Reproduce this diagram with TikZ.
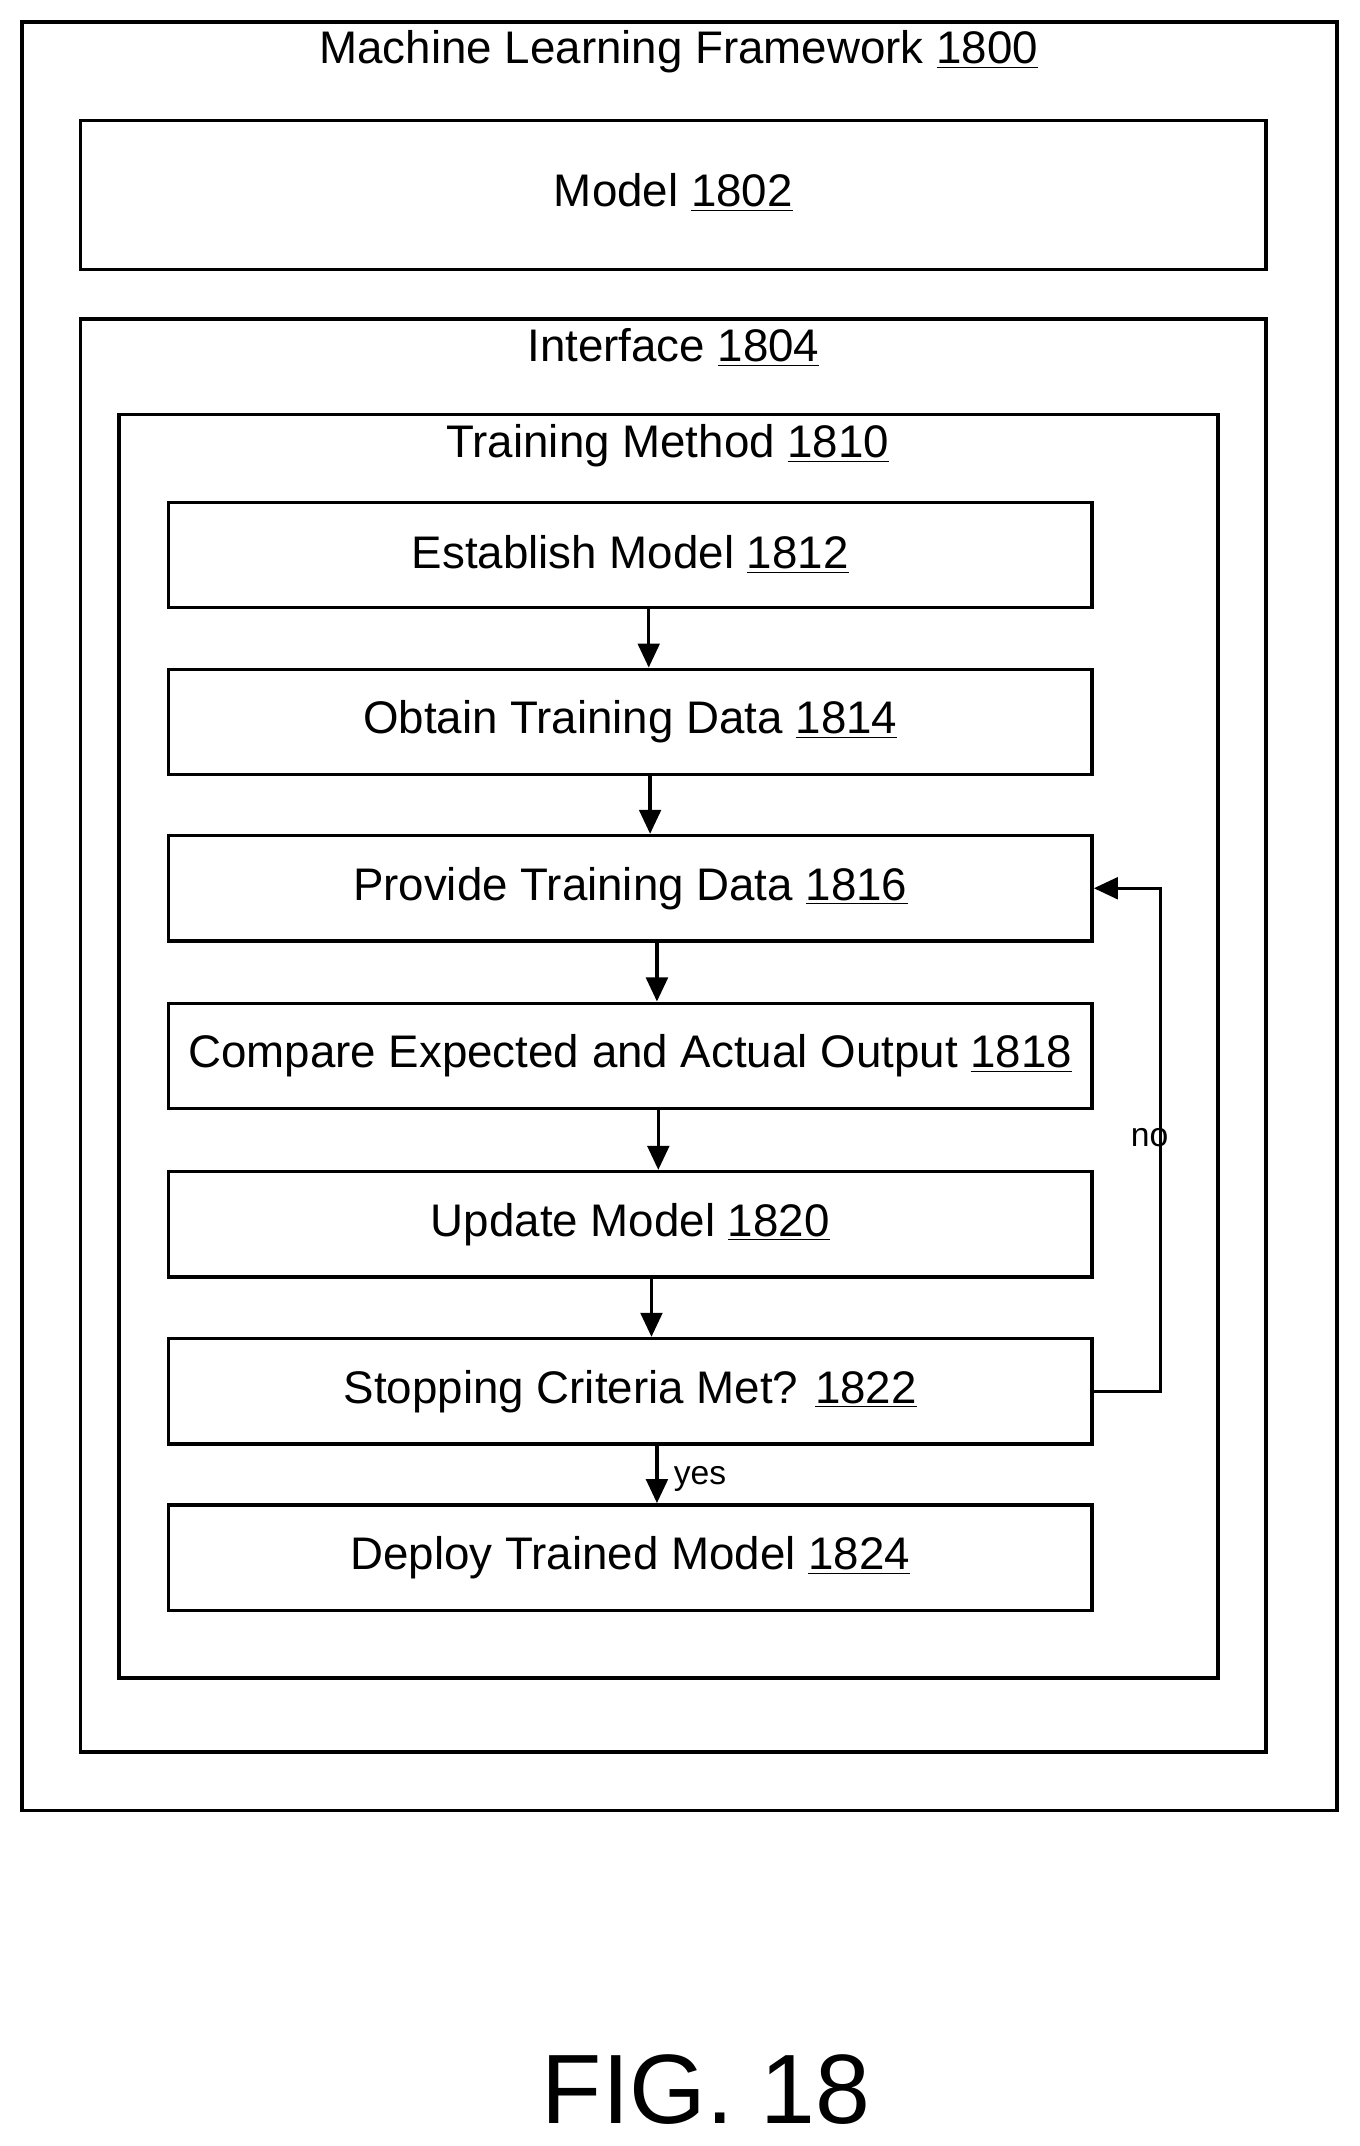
\documentclass[tikz,border=0pt]{standalone}
\usepackage{fontspec}
\setmainfont{Liberation Sans}
\usetikzlibrary{positioning,arrows.meta}

\begin{document}
\begin{tikzpicture}[x=0.02cm,y=-0.02cm,line width=1.4pt,
	stepb/.style={
		draw=black,
		minimum width=675*0.02cm,
		minimum height=77*0.02cm,
		font=\fontsize{19}{22}\selectfont},
	lbl/.style={font=\fontsize{19}{22}\selectfont},
	flow/.style={-{Triangle[length=10pt,width=9pt]}},
	]
	\useasboundingbox (0,0) rectangle (993,1568);
	% frames
	\draw (16,16) rectangle (977,1323);
	\node[lbl] (MLF) at (496,38) {Machine Learning Framework \underline{1800}};
	\draw (59,88) rectangle (925,197);
	\node[lbl] (MOD) at (492,141) {Model \underline{1802}};
	\draw (59,233) rectangle (925,1280);
	\node[lbl] (IF) at (492,254) {Interface \underline{1804}};
	\draw (87,303) rectangle (890,1226);
	\node[lbl] (TM) at (488,326) {Training Method \underline{1810}};
	% steps
	\node[stepb] (EM) at (460.5,405.5) {Establish Model \underline{1812}};
	\node[stepb] (OTD) at (460.5,527.5) {Obtain Training Data \underline{1814}};
	\node[stepb] (PTD) at (460.5,649) {Provide Training Data \underline{1816}};
	\node[stepb] (CEA) at (460.5,771.5) {Compare Expected and Actual Output \underline{1818}};
	\node[stepb] (UM) at (460.5,894.5) {Update Model \underline{1820}};
	\node[stepb] (SCM) at (460.5,1016.5) {Stopping Criteria Met? \underline{1822}};
	\node[stepb] (DTM) at (460.5,1138) {Deploy Trained Model \underline{1824}};
	% connectors
	\draw[flow] (EM.south -| 474,0) -- (OTD.north -| 474,0);
	\draw[flow] (OTD.south -| 475,0) -- (PTD.north -| 475,0);
	\draw[flow] (PTD.south -| 480,0) -- (CEA.north -| 480,0);
	\draw[flow] (CEA.south -| 481,0) -- (UM.north -| 481,0);
	\draw[flow] (UM.south -| 476,0) -- (SCM.north -| 476,0);
	\draw[flow] (SCM.south -| 480,0) -- node[right=3pt,yshift=-2pt,font=\fontsize{14}{16}\selectfont] {yes} (DTM.north -| 480,0);
	\draw[flow] (SCM.east) -- (848,1016.5) -- (848,649) -- (PTD.east);
	\node[font=\fontsize{14}{16}\selectfont] (NO) at (840,831) {no};
	\node[font=\fontsize{41}{46}\selectfont] (FIG) at (516,1527) {FIG. 18};
\end{tikzpicture}
\end{document}
